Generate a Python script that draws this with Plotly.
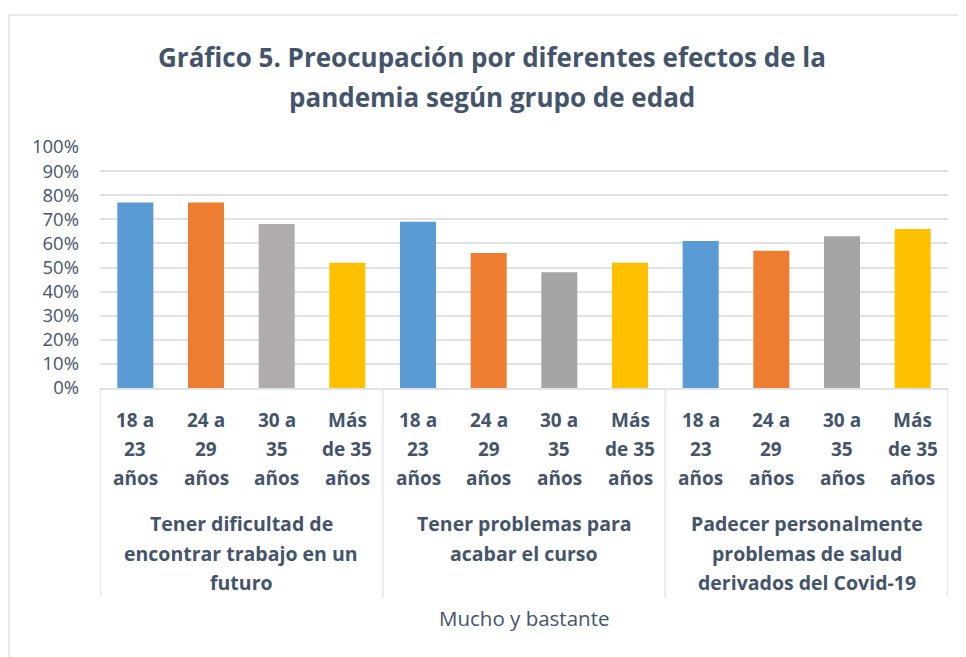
import plotly.graph_objects as go

# ---------------- data ----------------
title_lines = ["Gráfico 5. Preocupación por diferentes efectos de la",
               "pandemia según grupo de edad"]
groups = [
    ["Tener dificultad de", "encontrar trabajo en un", "futuro"],
    ["Tener problemas para", "acabar el curso"],
    ["Padecer personalmente", "problemas de salud", "derivados del Covid-19"],
]
ages = [
    ["18 a", "23", "años"],
    ["24 a", "29", "años"],
    ["30 a", "35", "años"],
    ["Más", "de 35", "años"],
]
values_trabajo = [0.77, 0.77, 0.68, 0.52]
values_curso = [0.69, 0.56, 0.48, 0.52]
values_salud = [0.61, 0.57, 0.63, 0.66]
series_values = [values_trabajo, values_curso, values_salud]
age_colors = ["#5B9BD5", "#ED7D31", "#A5A5A5", "#FFC000"]
gray_first = "#AFACAB"
y_ticks = [0, 0.1, 0.2, 0.3, 0.4, 0.5, 0.6, 0.7, 0.8, 0.9, 1.0]
y_ticktext = [f"{int(round(v*100))}%" for v in y_ticks]
x_axis_label = "Mucho y bastante"

# ---------------- layout constants (page pixels) ----------------
OFF = 8                      # default body margin of the html page
W, H = 966 - OFF, 657 - OFF  # figure size
PL, PR, PT, PB = 100, 948, 147, 388  # plot area in page px
TXT = "#44546A"
GRID = "#DFE2E7"
FONT = "'Open Sans', Lato, sans-serif"

def xp(px):
    return (px - PL) / (PR - PL)

def yp(py):
    return (PB - py) / (PB - PT)

fig = go.Figure()

n_age = len(ages)
for gi, vals in enumerate(series_values):
    xs = [gi * n_age + ai for ai in range(n_age)]
    cols = list(age_colors)
    if gi == 0:
        cols[2] = gray_first
    fig.add_trace(go.Bar(
        x=xs, y=vals, width=0.51,
        marker=dict(color=cols, line=dict(width=0)),
        showlegend=False, hoverinfo="y",
    ))

annotations = []
shapes = []

# age labels (three lines each)
age_line_y = [420, 449, 478]
for gi in range(len(groups)):
    for ai, lines in enumerate(ages):
        for li, t in enumerate(lines):
            annotations.append(dict(
                x=gi * n_age + ai, xref="x", y=yp(age_line_y[li]), yref="paper",
                text=f"<b>{t}</b>", showarrow=False, xanchor="center", yanchor="middle",
                font=dict(family=FONT, size=19, color=TXT)))

# group labels
grp_line_y = [523, 553, 582]
for gi, lines in enumerate(groups):
    for li, t in enumerate(lines):
        annotations.append(dict(
            x=gi * n_age + (n_age - 1) / 2, xref="x", y=yp(grp_line_y[li]), yref="paper",
            text=f"<b>{t}</b>", showarrow=False, xanchor="center", yanchor="middle",
            font=dict(family=FONT, size=19.5, color=TXT)))

# group dividers
for gi in range(len(groups) + 1):
    xv = gi * n_age - 0.5
    shapes.append(dict(type="line", xref="x", yref="paper",
                       x0=xv, x1=xv, y0=0, y1=yp(598),
                       line=dict(color=GRID, width=1.5)))

# axis title
annotations.append(dict(
    x=xp((PL + PR) / 2), xref="paper", y=yp(618), yref="paper",
    text=x_axis_label, showarrow=False, xanchor="center", yanchor="middle",
    font=dict(family=FONT, size=20.5, color=TXT)))

# title lines
title_y = [57, 97]
for li, t in enumerate(title_lines):
    annotations.append(dict(
        x=xp(492), xref="paper", y=yp(title_y[li]), yref="paper",
        text=f"<b>{t}</b>", showarrow=False, xanchor="center", yanchor="middle",
        font=dict(family=FONT, size=26, color=TXT)))

# outer chart border
shapes.append(dict(type="rect", xref="paper", yref="paper",
                   x0=xp(9), x1=xp(990), y0=yp(15), y1=yp(690),
                   line=dict(color=GRID, width=1.5), layer="below"))

fig.update_layout(
    width=W, height=H,
    margin=dict(l=PL - OFF, r=W - (PR - OFF), t=PT - OFF, b=H - (PB - OFF), pad=0),
    paper_bgcolor="white", plot_bgcolor="white",
    bargap=0.49,
    annotations=annotations, shapes=shapes,
    xaxis=dict(range=[-0.5, len(groups) * n_age - 0.5], showticklabels=False,
               showgrid=False, zeroline=False, showline=True,
               linecolor=GRID, linewidth=1.5, fixedrange=True),
    yaxis=dict(range=[0, 1], tickvals=y_ticks, ticktext=y_ticktext,
               showgrid=True, gridcolor=GRID, gridwidth=1.5,
               zeroline=False, showline=False, ticklabelstandoff=20,
               tickfont=dict(family=FONT, size=18.5, color=TXT), fixedrange=True),
    font=dict(family=FONT, color=TXT),
)

fig.write_html("out.html")
